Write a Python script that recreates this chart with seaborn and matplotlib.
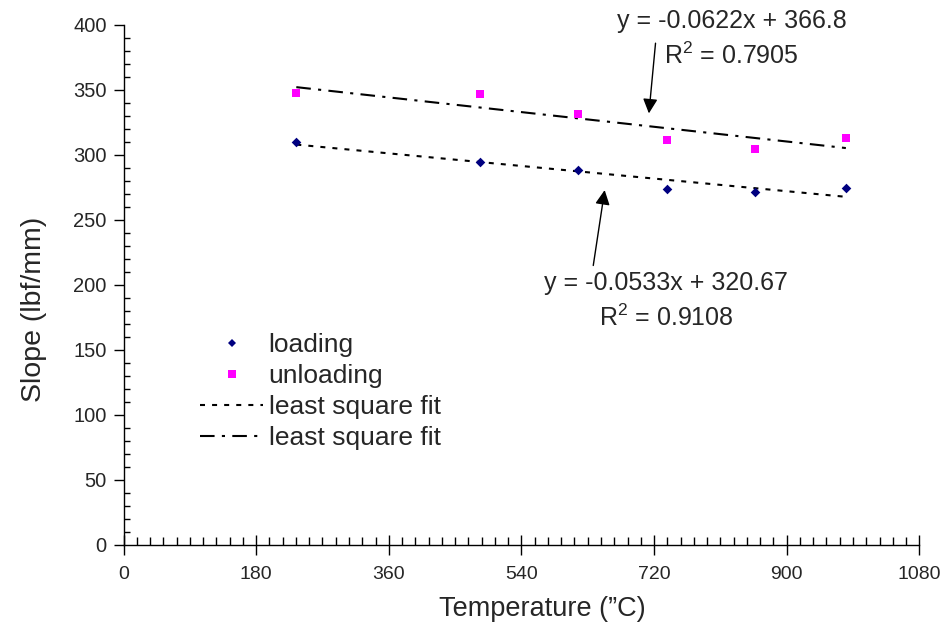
import numpy as np
import pandas as pd
import matplotlib.pyplot as plt
import seaborn as sns
from matplotlib.ticker import MultipleLocator
from matplotlib.lines import Line2D

# values
temperature = [234.5, 483.3, 616.7, 737.0, 856.4, 980.3]
slope_loading = [310.2, 294.8, 288.5, 273.6, 271.8, 274.4]
slope_unloading = [347.9, 347.2, 331.5, 311.3, 304.8, 313.3]
legend_labels = ["loading", "unloading", "least square fit", "least square fit"]
fit_text_loading = "y = -0.0533x + 320.67\nR$^2$ = 0.9108"
fit_text_unloading = "y = -0.0622x + 366.8\nR$^2$ = 0.7905"

sns.set_style("ticks")
plt.rcParams["font.family"] = ["Liberation Sans", "DejaVu Sans"]
plt.rcParams["mathtext.fontset"] = "custom"
plt.rcParams["mathtext.rm"] = "Liberation Sans"
plt.rcParams["mathtext.default"] = "regular"

navy = "#000080"
magenta = "#FF00FF"
dots = (2.4, 3.4)
dashdot = (7, 3.5, 1.5, 3.5)

fig = plt.figure(figsize=(9.4, 6.31), dpi=100)
ax = fig.add_axes([0.1314, 0.1363, 0.8466, 0.8241])

sns.scatterplot(x=temperature, y=slope_loading, marker="D", color=navy,
                s=24, linewidth=0, ax=ax, zorder=3)
sns.scatterplot(x=temperature, y=slope_unloading, marker="s", color=magenta,
                s=32, linewidth=0, ax=ax, zorder=3)

#least square fits
sns.regplot(x=temperature, y=slope_loading, scatter=False, ci=None, ax=ax,
            line_kws=dict(color="black", lw=1.5, dashes=dots))
sns.regplot(x=temperature, y=slope_unloading, scatter=False, ci=None, ax=ax,
            line_kws=dict(color="black", lw=1.5, dashes=dashdot))

ax.set_xlim(0, 1080)
ax.set_ylim(0, 400)
sns.despine(ax=ax)
for side in ["left", "bottom"]:
    ax.spines[side].set_color("black")
    ax.spines[side].set_linewidth(1)

ax.xaxis.set_major_locator(MultipleLocator(180))
ax.xaxis.set_minor_locator(MultipleLocator(18))
ax.yaxis.set_major_locator(MultipleLocator(50))
ax.yaxis.set_minor_locator(MultipleLocator(10))
ax.tick_params(axis="x", which="major", direction="inout", length=14, width=1,
               labelsize=14, pad=8, color="black")
ax.tick_params(axis="x", which="minor", direction="in", length=6, width=1, color="black")
ax.tick_params(axis="y", which="major", direction="out", length=7, width=1,
               labelsize=14.5, pad=5, color="black")
ax.tick_params(axis="y", which="minor", direction="in", length=4, width=1, color="black")

ax.set_xlabel("Temperature (”C)", fontsize=19.5)
ax.set_ylabel("Slope (lbf/mm)", fontsize=20.5)
ax.xaxis.set_label_coords(0.526, -0.098)
ax.yaxis.set_label_coords(-0.113, 0.454)
ax.yaxis.label.set_va("center")

#trendline labels with arrows
ax.text(825, 389, fit_text_unloading, fontsize=18, ha="center", va="center",
        linespacing=1.45)
ax.text(736, 188, fit_text_loading, fontsize=18, ha="center", va="center",
        linespacing=1.45)
arrow = dict(arrowstyle="-|>", color="black", lw=1, mutation_scale=22,
             shrinkA=0, shrinkB=0)
ax.annotate("", xy=(713, 332), xytext=(722, 386), arrowprops=arrow)
ax.annotate("", xy=(653, 273), xytext=(637.5, 215), arrowprops=arrow)

handles = [
    Line2D([], [], ls="none", marker="D", color=navy, ms=4.5, mew=0),
    Line2D([], [], ls="none", marker="s", color=magenta, ms=5.5, mew=0),
    Line2D([], [], color="black", lw=1.5, dashes=dots),
    Line2D([], [], color="black", lw=1.5, dashes=(7, 3.5, 1.5, 3.5)),
]
ax.legend(handles, legend_labels, loc="upper left", bbox_to_anchor=(0.096, 0.408),
          frameon=False, fontsize=19, handlelength=2.4, handletextpad=0.2,
          borderpad=0, borderaxespad=0, labelspacing=0.27)

fig.savefig("out.png", dpi=100)
